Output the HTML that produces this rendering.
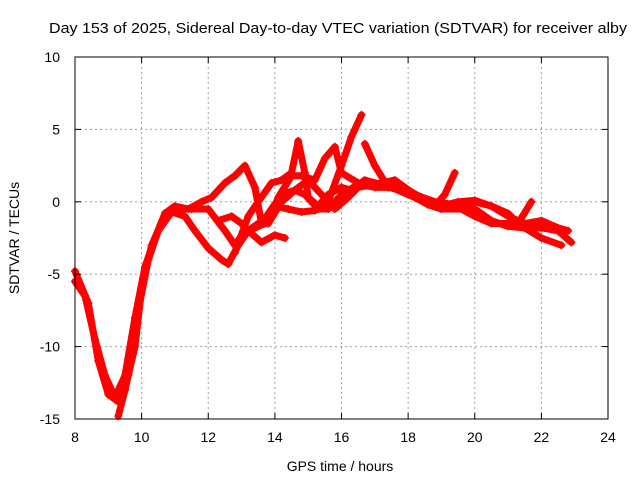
<!DOCTYPE html>
<html><head><meta charset="utf-8"><style>
body{margin:0;background:#fff;}
svg{font-family:"Liberation Sans",sans-serif;font-size:14px;}
</style></head><body>
<svg id="chart" width="640" height="480" viewBox="0 0 640 480" xmlns="http://www.w3.org/2000/svg">
<rect width="640" height="480" fill="#fff"/>
<text x="338" y="33" text-anchor="middle" font-size="15" textLength="578" lengthAdjust="spacingAndGlyphs">Day 153 of 2025, Sidereal Day-to-day VTEC variation (SDTVAR) for receiver alby</text>
<g id="grid"></g>
<g id="series"></g>
<g id="axes"></g>
<text x="340" y="471" text-anchor="middle">GPS time / hours</text>
<text transform="translate(19,238) rotate(-90)" text-anchor="middle">SDTVAR / TECUs</text>
</svg>
<script>
const xTicks=[8,10,12,14,16,18,20,22,24];
const yTicks=[10,5,0,-5,-10,-15];
const seriesA=[[8.0,-5.5],[8.3,-6.5],[8.6,-9.5],[8.9,-12],[9.2,-13.5],[9.5,-12],[9.8,-8],[10.1,-4.5],[10.4,-2.5],[10.7,-0.8],[11.0,-0.3],[11.4,-0.5],[11.8,0],[12.1,0.3],[12.5,1.3],[12.8,1.8],[13.1,2.5],[13.4,1],[13.6,-1.5],[13.9,-0.5],[14.2,0.5],[14.6,0.8],[14.9,0.5],[15.3,-0.5],[15.6,-0.5],[16.0,0.5],[16.5,1.2],[17.0,1],[17.5,1],[18.0,0.5],[18.5,0.2],[19.0,-0.3],[19.5,0],[20.0,0.1],[20.5,-0.3],[21,-1],[21.5,-1.5],[22,-1.3],[22.5,-1.8],[22.8,-2]];
const seriesB=[[8.0,-4.8],[8.4,-7],[8.7,-11],[9.0,-13.3],[9.3,-13.8],[9.6,-12],[9.9,-7.5],[10.2,-4],[10.5,-2],[10.9,-0.7],[11.3,-1],[11.6,-2],[12.0,-3.2],[12.4,-4],[12.6,-4.3],[12.9,-3],[13.2,-2],[13.5,-1.5],[13.8,-1.5],[14.1,0.3],[14.5,1.8],[14.8,1.8],[15.2,1.5],[15.5,3],[15.8,3.8],[16.0,2],[16.5,1.3],[17,1.2],[17.5,1],[18,0.5],[18.5,0],[19,-0.5],[19.5,-0.3],[20,-0.5],[20.5,-1.3],[21,-1.7],[21.5,-1.8],[22,-2.5],[22.6,-3]];
const seriesC=[[9.3,-14.8],[9.5,-13],[9.8,-10],[10.0,-6],[10.3,-3],[10.7,-1],[11.0,-0.5],[11.5,-0.5],[12.0,-0.5],[12.5,-2],[12.8,-3],[13.1,-2],[13.4,-1.8],[13.7,-1.5],[14.0,-0.3],[14.4,-0.5],[14.8,-0.7],[15.2,-0.6],[15.6,0],[16.0,2.5],[16.3,4.5],[16.6,6]];
const seriesC2=[[16.7,4],[17.0,2.5],[17.4,1],[17.8,0.8],[18.2,0.3],[18.6,-0.2],[19,-0.5],[19.6,-0.5],[20,-1],[20.5,-1.5],[21,-1.5],[21.5,-1.8],[22,-1.8],[22.5,-2],[22.9,-2.8]];
const seriesD=[[12.8,-3.5],[13.2,-1],[13.5,0],[13.9,1.3],[14.2,1.5],[14.5,2],[14.7,4.2],[14.9,2],[15.0,0.3],[15.3,-0.3],[15.6,0.5],[16.0,1],[16.3,0.8],[16.7,1.5],[17.2,1.2],[17.6,1],[18.0,0.8],[18.4,0.3],[18.8,-0.3],[19.1,0.5],[19.4,2]];
const seriesE=[[12.3,-1.3],[12.7,-1],[13.0,-1.5],[13.3,-2.2],[13.6,-2.8],[14.0,-2.3],[14.3,-2.5]];
const seriesF=[[13.8,-1.5],[14.2,0],[14.6,0.8],[15.0,1.5],[15.4,0.5],[15.8,-0.5],[16.2,0.3],[16.5,1],[17,1.2],[17.6,1.5],[18.2,0.5],[18.8,0],[19.4,-0.2],[20,0],[20.5,-0.3],[21,-0.8],[21.3,-1.5],[21.7,0]];
const allSeries=[seriesA,seriesB,seriesC,seriesC2,seriesD,seriesE,seriesF];
const X0=75,X1=608,Y0=57,Y1=419;
const xs=h=>X0+(h-8)/(24-8)*(X1-X0);
const ys=v=>Y0+(10-v)/25*(Y1-Y0);
const NS='http://www.w3.org/2000/svg';
function mk(tag,attrs,parent){const e=document.createElementNS(NS,tag);for(const k in attrs)e.setAttribute(k,attrs[k]);parent.appendChild(e);return e;}
const grid=document.getElementById('grid'),axes=document.getElementById('axes'),ser=document.getElementById('series');
xTicks.forEach(t=>{
  if(t>8&&t<24){const g=mk('line',{x1:xs(t),x2:xs(t),y1:Y0,y2:Y1,stroke:'#a0a0a0','stroke-dasharray':'2,3'},grid);
  
  }
  mk('line',{x1:xs(t),x2:xs(t),y1:Y1,y2:Y1-6,stroke:'#000'},axes);
  mk('line',{x1:xs(t),x2:xs(t),y1:Y0,y2:Y0+6,stroke:'#000'},axes);
  const tx=mk('text',{x:xs(t),y:Y1+23,'text-anchor':'middle'},axes);tx.textContent=t;
  
  
});
yTicks.forEach(t=>{
  if(t<10&&t>-15){const g=mk('line',{x1:X0,x2:X1,y1:ys(t),y2:ys(t),stroke:'#a0a0a0','stroke-dasharray':'2,3'},grid);
  
  }
  mk('line',{x1:X0,x2:X0+6,y1:ys(t),y2:ys(t),stroke:'#000'},axes);
  mk('line',{x1:X1,x2:X1-6,y1:ys(t),y2:ys(t),stroke:'#000'},axes);
  const tx=mk('text',{x:X0-15,y:ys(t)+5,'text-anchor':'end'},axes);tx.textContent=t;
  
  
});
const fr=mk('rect',{x:X0,y:Y0,width:X1-X0,height:Y1-Y0,fill:'none',stroke:'#000'},axes);


allSeries.forEach((s,i)=>{
  const pl=mk('polyline',{points:s.map(p=>xs(p[0])+','+ys(p[1])).join(' '),fill:'none',stroke:'#ff0000','stroke-width':7,'stroke-linejoin':'round','stroke-linecap':'round'},ser);
  
  
  s.forEach(p=>{
    const x=xs(p[0]),y=ys(p[1]);
    const m=mk('path',{d:`M${x-4},${y}H${x+4}M${x},${y-4}V${y+4}`,stroke:'#ff0000','stroke-width':1.5},ser);
    
    
  });
});
</script>
</body></html>
